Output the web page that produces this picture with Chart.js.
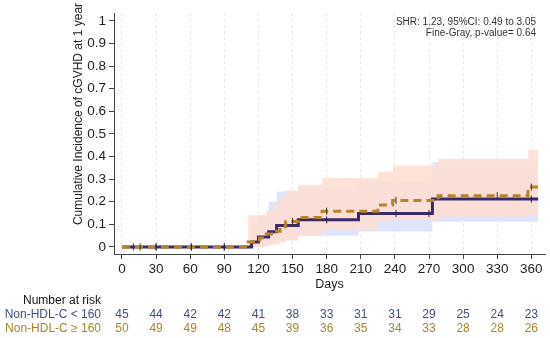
<!DOCTYPE html>
<html>
<head>
<meta charset="utf-8">
<script src="https://cdn.jsdelivr.net/npm/chart.js@4.4.0/dist/chart.umd.min.js"></script>
<style>
  html, body { margin: 0; padding: 0; background: #fff; }
  #wrap { width: 550px; height: 338px; }
</style>
</head>
<body>
<div id="wrap"><canvas id="cifChart" width="550" height="338"></canvas></div>
<script>
const dayTicks = [0, 30, 60, 90, 120, 150, 180, 210, 240, 270, 300, 330, 360];
const yTicks = [0, 0.1, 0.2, 0.3, 0.4, 0.5, 0.6, 0.7, 0.8, 0.9, 1];

// Non-HDL-C < 160
const lowDays  = [0, 114, 120, 129, 136, 155, 208, 273, 366];
const lowInc   = [0, 0.022, 0.044, 0.067, 0.095, 0.12, 0.148, 0.212, 0.212];
const lowUpper = [0, 0.10, 0.14, 0.20, 0.245, 0.26, 0.29, 0.375, 0.375];
const lowLower = [0, 0, 0.005, 0.015, 0.03, 0.05, 0.068, 0.112, 0.112];
const lowCensor = [10, 30, 61, 90, 180, 241, 270, 360];

// Non-HDL-C >= 160
const highDays  = [0, 111, 121, 127, 133, 139, 144, 155, 176, 225, 238, 278, 357, 366];
const highInc   = [0, 0.022, 0.04, 0.057, 0.07, 0.09, 0.113, 0.13, 0.158, 0.186, 0.206, 0.227, 0.265, 0.265];
const highUpper = [0, 0.14, 0.14, 0.16, 0.19, 0.22, 0.25, 0.275, 0.305, 0.333, 0.36, 0.39, 0.43, 0.43];
const highLower = [0, 0, 0, 0.005, 0.012, 0.02, 0.03, 0.05, 0.075, 0.11, 0.12, 0.134, 0.14, 0.14];
const highCensor = [16, 30, 61, 90, 150, 180, 241, 330, 360];

// number at risk
const riskDays = [0, 30, 60, 90, 120, 150, 180, 210, 240, 270, 300, 330, 360];
const riskLow  = [45, 44, 42, 42, 41, 38, 33, 31, 31, 29, 25, 24, 23];
const riskHigh = [50, 49, 49, 48, 45, 39, 36, 35, 34, 33, 28, 28, 26];

const groupNames = ['Non-HDL-C < 160', 'Non-HDL-C \u2265 160'];
const statLines = ['SHR: 1.23, 95%CI: 0.49 to 3.05', 'Fine-Gray, p-value= 0.64'];

const FONT = '"Liberation Sans", Arial, sans-serif';
const LOW_COLOR = '#3a2a6c';
const HIGH_COLOR = '#b5832a';

function pts(xs, ys) {
    return xs.map((x, i) => ({ x: x, y: ys[i] }));
}

// value of a step curve at day d
function stepAt(xs, ys, d) {
    let v = ys[0];
    for (let i = 0; i < xs.length; i++) {
        if (xs[i] <= d) v = ys[i];
    }
    return v;
}

function band(xs, ys, color, order, fill) {
    return {
        data: pts(xs, ys),
        stepped: true,
        borderWidth: 0,
        borderColor: 'rgba(0,0,0,0)',
        pointRadius: 0,
        backgroundColor: color,
        fill: fill,
        order: order,
    };
}

function censor(days, xs, ys, color) {
    return {
        type: 'scatter',
        data: days.map(d => ({ x: d, y: stepAt(xs, ys, d) })),
        pointStyle: 'line',
        rotation: 90,
        pointRadius: 3.5,
        borderWidth: 1,
        borderColor: color,
        order: -1,
    };
}

const extras = {
    id: 'extras',
    afterDraw(chart) {
        const ctx = chart.ctx;
        const xs = chart.scales.x;
        ctx.save();

        // y axis title
        ctx.font = '12px ' + FONT;
        ctx.fillStyle = '#222';
        ctx.textAlign = 'center';
        ctx.textBaseline = 'middle';
        ctx.translate(79, 114);
        ctx.rotate(-Math.PI / 2);
        ctx.fillText('Cumulative Incidence of cGVHD at 1 year', 0, 0);
        ctx.setTransform(1, 0, 0, 1, 0, 0);

        // statistics
        ctx.font = '10px ' + FONT;
        ctx.fillStyle = '#333';
        ctx.textAlign = 'right';
        ctx.fillText(statLines[0], 536, 22);
        ctx.fillText(statLines[1], 536, 33);

        // risk table
        ctx.font = '12px ' + FONT;
        ctx.fillStyle = '#111';
        ctx.textAlign = 'right';
        ctx.fillText('Number at risk', 101, 301);
        ctx.fillStyle = '#3f5080';
        ctx.fillText(groupNames[0], 101, 315);
        ctx.fillStyle = '#a7852f';
        ctx.fillText(groupNames[1], 101, 329);

        ctx.textAlign = 'center';
        riskDays.forEach((d, i) => {
            const px = xs.getPixelForValue(d);
            ctx.fillStyle = '#3f5080';
            ctx.fillText(String(riskLow[i]), px, 315);
            ctx.fillStyle = '#a7852f';
            ctx.fillText(String(riskHigh[i]), px, 329);
        });
        ctx.restore();
    }
};

const ctx = document.getElementById('cifChart').getContext('2d');
const chart = new Chart(ctx, {
    type: 'line',
    data: {
        datasets: [
            {
                data: pts(lowDays, lowInc),
                stepped: true,
                borderColor: LOW_COLOR,
                borderWidth: 3,
                pointRadius: 0,
                fill: false,
                order: 1,
            },
            {
                data: pts(highDays, highInc),
                stepped: true,
                borderColor: HIGH_COLOR,
                borderWidth: 3,
                borderDash: [8, 5],
                pointRadius: 0,
                fill: false,
                order: 0,
            },
            censor(lowCensor, lowDays, lowInc, '#2b2440'),
            censor(highCensor, highDays, highInc, '#3a3020'),
            band(highDays, highUpper, 'rgba(253,222,211,0.88)', 3, '+1'),
            band(highDays, highLower, 'rgba(0,0,0,0)', 3, false),
            band(lowDays, lowUpper, 'rgba(222,228,250,1)', 4, '+1'),
            band(lowDays, lowLower, 'rgba(0,0,0,0)', 4, false),
        ]
    },
    options: {
        responsive: false,
        animation: false,
        layout: { padding: { top: 13, right: 5, left: 0, bottom: 0 } },
        plugins: {
            legend: { display: false },
            tooltip: { enabled: false },
        },
        scales: {
            x: {
                type: 'linear',
                min: -7,
                max: 372,
                afterBuildTicks: s => { s.ticks = dayTicks.map(v => ({ value: v })); },
                afterFit: s => { s.height = 84; },
                ticks: {
                    font: { family: FONT, size: 13.5 },
                    color: '#222',
                    padding: 2,
                    maxRotation: 0,
                    autoSkip: false,
                },
                grid: {
                    color: '#e6e6e6',
                    tickColor: '#444',
                    tickLength: 5,
                },
                border: { color: '#444', width: 1, dash: [3, 3] },
                title: {
                    display: true,
                    text: 'Days',
                    font: { family: FONT, size: 12.5 },
                    color: '#222',
                    padding: { top: 0, bottom: 46 },
                },
            },
            y: {
                type: 'linear',
                min: -0.031,
                max: 1.035,
                afterBuildTicks: s => { s.ticks = yTicks.map(v => ({ value: v })); },
                afterFit: s => { s.width = 114; },
                ticks: {
                    font: { family: FONT, size: 13.5 },
                    color: '#222',
                    padding: 3,
                    callback: v => String(Number(v.toFixed(1))),
                },
                grid: {
                    drawOnChartArea: false,
                    tickColor: '#444',
                    tickLength: 5,
                },
                border: { color: '#444', width: 1 },
            }
        }
    },
    plugins: [extras]
});
</script>
</body>
</html>
